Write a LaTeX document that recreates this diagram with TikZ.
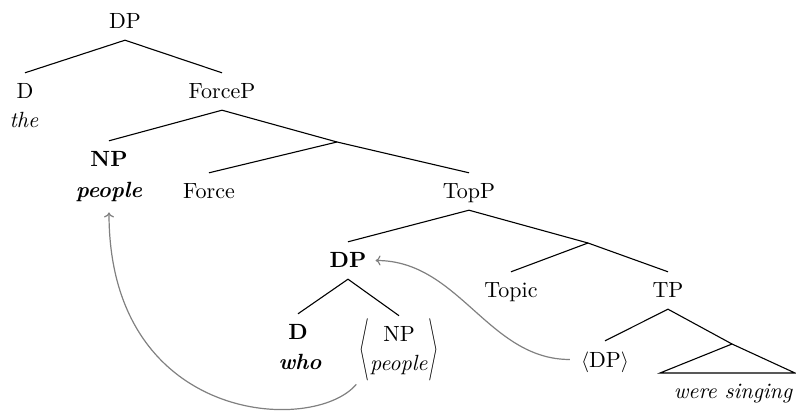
\documentclass[tikz,border=0pt]{standalone}
\usepackage{exscale}
\usepackage{graphicx}
\usetikzlibrary{calc,arrows.meta}
\DeclareFontFamily{TU}{lmrx}{}
\DeclareFontShape{TU}{lmrx}{m}{n}{<->"[lmroman10-regular]:mapping=tex-text"}{}
\DeclareFontShape{TU}{lmrx}{m}{it}{<->"[lmroman10-italic]:mapping=tex-text"}{}
\DeclareFontShape{TU}{lmrx}{bx}{n}{<->"[lmroman10-bold]:mapping=tex-text"}{}
\DeclareFontShape{TU}{lmrx}{bx}{it}{<->"[lmroman10-bolditalic]:mapping=tex-text"}{}
\renewcommand\rmdefault{lmrx}
\newcommand\npstack{\begin{tabular}{@{}c@{}}NP\\\textit{people}\end{tabular}}
\newcommand\narrowl{\scalebox{0.6}[1]{$\left\langle\vphantom{\npstack}\right.$}}
\newcommand\narrowr{\scalebox{0.6}[1]{$\left.\vphantom{\npstack}\right\rangle$}}
\begin{document}
\begin{tikzpicture}[x=1pt,y=-1pt,
  lab/.style={anchor=base, inner xsep=1pt, inner ysep=11pt, text height=15pt, text depth=0pt, font=\fontsize{22}{26}\selectfont},
  word/.style={anchor=base, inner sep=2pt, font=\fontsize{22}{26}\selectfont\itshape},
  boldword/.style={anchor=base, inner sep=2pt, font=\fontsize{22}{26}\selectfont\bfseries\itshape},
  branch/.style={line width=1.1pt, black},
  move/.style={draw=black!50, line width=1.2pt, -{To[length=5pt,width=10pt]}}]
\useasboundingbox (0,0) rectangle (796,414);
% level 0
\node[lab] (DP0) at (125,29) {DP};
% level 1
\node[lab] (D1) at (25,99) {D};
\node[word] (the) at (24,128) {the};
\node[lab] (ForceP) at (222,99) {ForceP};
\coordinate (Fbar) at (337,142);
% level 2
\node[lab] (NP1) at (109,167) {\bfseries NP};
\node[boldword] (people1) at (109,198) {people};
\node[lab] (Force) at (209,199) {Force};
\node[lab] (TopP) at (469,199) {TopP};
\coordinate (Tbar) at (588,243);
% level 3
\node[lab] (DP2) at (348,268) {\bfseries DP};
\node[lab] (Topic) at (511,298) {Topic};
\node[lab] (TP) at (668,298) {TP};
% level 4
\node[lab] (D2) at (298,340) {\bfseries D};
\node[boldword] (who) at (300,370) {who};
\node[inner sep=3pt, font=\fontsize{22}{26}\selectfont] (NP2) at (399,350)
  {\renewcommand{\arraystretch}{1.12}$\narrowl\npstack\narrowr$};
\node[lab] (DPt) at (605,367) {$\langle$DP$\rangle$};
\coordinate (roof) at (732,344);
\coordinate (roofL) at (660,373);
\coordinate (roofR) at (795,373);
\node[word] (ws) at (733,398) {were singing};
% branches
\draw[branch] (D1.north) -- (DP0.south) -- (ForceP.north);
\draw[branch] (NP1.north) -- (ForceP.south) -- (Fbar);
\draw[branch] (Force.north) -- (Fbar) -- (TopP.north);
\draw[branch] (DP2.north) -- (TopP.south) -- (Tbar);
\draw[branch] (Topic.north) -- (Tbar) -- (TP.north);
\draw[branch] (D2.north) -- (DP2.south) -- (NP2.north);
\draw[branch] (DPt.north) -- (TP.south) -- (roof);
\draw[branch] (roof) -- (roofL) -- (roofR) -- cycle;
% movement arrows
\draw[move] (NP2.south west) to[out=-130, in=-90, out distance=66pt, in distance=212pt] ([yshift=-8pt]people1.south);
\draw[move, shorten <=10pt, shorten >=8pt] (DPt.west) to[out=180, in=0] (DP2.east);
\end{tikzpicture}
\end{document}
